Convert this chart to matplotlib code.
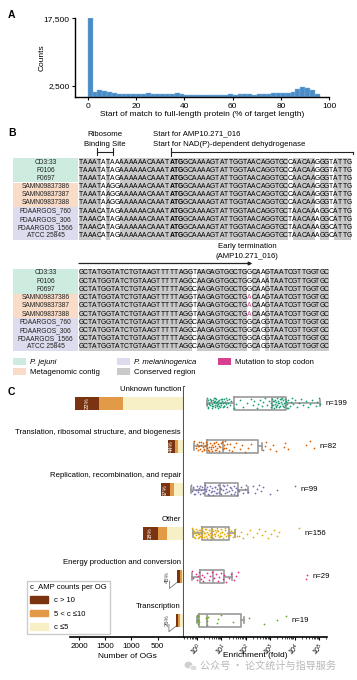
import numpy as np
import matplotlib.pyplot as plt
from matplotlib.patches import Rectangle, Patch, Ellipse
from matplotlib.transforms import blended_transform_factory

plt.rcParams['font.family'] = ['Liberation Sans', 'DejaVu Sans']
plt.rcParams['mathtext.default'] = 'regular'

# ---------------- data: panel A ----------------
bin_starts = list(range(0, 96, 2))
bin_counts = [17500, 1100, 1700, 1350, 1200, 950, 800, 650, 800, 650,
              650, 800, 1000, 650, 650, 700, 650, 650, 1000, 650,
              600, 600, 600, 600, 550, 550, 550, 550, 600, 700,
              600, 700, 750, 750, 600, 700, 700, 700, 850, 850,
              900, 1030, 1250, 1760, 2200, 2050, 1610, 730]

# ---------------- data: panel B ----------------
row_labels = ['CD3:33', 'F0106', 'F0697', 'SAMN09837386', 'SAMN09837387',
              'SAMN09837388', 'FDAARGOS_760', 'FDAARGOS_306', 'FDAARGOS_1566',
              'ATCC 25845']
row_groups = [0, 0, 0, 1, 1, 1, 2, 2, 2, 2]

seq_block1 = [
    "TAAATATAA" "AAAAAACAAAT" "ATG" "GCAAAAGTATTGGTAACAGGTGCC" "AACAAG" "GGT" "ATTG",
    "TAAATATAG" "AAAAAACAAAT" "ATG" "GCAAAAGTATTGGTAACAGGTGCC" "AACAAG" "GGT" "ATTG",
    "TAAATATAG" "AAAAAACAAAT" "ATG" "GCAAAAGTATTGGTAACAGGTGCC" "AACAAG" "GGT" "ATTG",
    "TAAATAAGG" "AAAAAACAAAT" "ATG" "GCAAAAGTATTGGTAACAGGTGCC" "AACAAG" "GGT" "ATTG",
    "TAAATAAGG" "AAAAAACAAAT" "ATG" "GCAAAAGTATTGGTAACAGGTGCC" "AACAAG" "GGT" "ATTG",
    "TAAATAAGG" "AAAAAACAAAT" "ATG" "GCAAAAGTATTGGTAACAGGTGCC" "AACAAG" "GGT" "ATTG",
    "TAAACATAG" "AAAAAACAAAT" "ATG" "GCAAAAGTATTGGTAACAGGTGCT" "AACAAA" "GGC" "ATTG",
    "TAAACATAG" "AAAAAACAAAT" "ATG" "GCAAAAGTATTGGTAACAGGTGCT" "AACAAA" "GGC" "ATTG",
    "TAAACATAG" "AAAAAACAAAT" "ATG" "GCAAAAGTATTGGTAACAGGTGCT" "AACAAA" "GGC" "ATTG",
    "TAAACATAG" "AAAAAACAAAT" "ATG" "GCAAAAGTATTGGTAACAGGTGCT" "AACAAA" "GGC" "ATTG",
]
seq_block2 = [
    "GCTATGGTATCTGTAAGTTTTTAGG" "T" "AAGAGTGGCTG" "G" "CAAG" "TAATCGTTGGTGC",
    "GCTATGGTATCTGTAAGTTTTTAGG" "C" "AAGAGTGGCTG" "G" "CAAA" "TAATCGTTGGTGC",
    "GCTATGGTATCTGTAAGTTTTTAGG" "C" "AAGAGTGGCTG" "G" "CAAG" "TAATCGTTGGTGC",
    "GCTATGGTATCTGTAAGTTTTTAGG" "T" "AAGAGTGGCTG" "A" "CAAG" "TAATCGTTGGTGC",
    "GCTATGGTATCTGTAAGTTTTTAGG" "T" "AAGAGTGGCTG" "A" "CAAG" "TAATCGTTGGTGC",
    "GCTATGGTATCTGTAAGTTTTTAGG" "T" "AAGAGTGGCTG" "A" "CAAG" "TAATCGTTGGTGC",
    "GCTATGGTATCTGTAAGTTTTTAGG" "C" "AAGAGTGGCTG" "G" "CAGG" "TAATCGTTGGTGC",
    "GCTATGGTATCTGTAAGTTTTTAGG" "C" "AAGAGTGGCTG" "G" "CAGG" "TAATCGTTGGTGC",
    "GCTATGGTATCTGTAAGTTTTTAGG" "C" "AAGAGTGGCTG" "G" "CAGG" "TAATCGTTGGTGC",
    "GCTATGGTATCTGTAAGTTTTTAGG" "C" "AAGAGTGGCTG" "G" "CAGG" "TAATCGTTGGTGC",
]
# conserved columns (1-based, inclusive runs)
conserved_block1 = [(1, 5), (7, 7), (10, 46), (48, 52), (54, 55), (57, 60)]
conserved_block2 = [(1, 25), (27, 37), (39, 40), (42, 42), (43, 55)]
start_codon_cols = [21, 22, 23]
stop_col = 38

# ---------------- data: panel C ----------------
categories = ['Unknown function',
              'Translation, ribosomal structure, and biogenesis',
              'Replication, recombination, and repair',
              'Other',
              'Energy production and conversion',
              'Transcription']
og_high = [457, 137, 162, 299, 63, 40]
og_mid = [457, 57, 95, 160, 30, 45]
og_low = [1162, 116, 181, 328, 47, 67]
n_counts = [199, 82, 99, 156, 29, 19]

# box statistics, log10 enrichment
box_lo = [0.40, -0.11, -0.25, -0.18, -0.22, -0.01]
box_q1 = [1.53, 0.40, 0.33, 0.19, 0.12, 0.09]
box_med = [3.06, 1.08, 0.94, 0.63, 0.67, 0.40]
box_q3 = [3.65, 2.51, 1.69, 1.32, 1.11, 1.79]
box_hi = [5.04, 2.66, 2.10, 1.56, 1.42, 1.94]

# individual OGs, log10 enrichment
unknown_log = """0.40 0.42 0.45 0.47 0.50 0.52 0.55 0.57 0.60 0.62 0.64 0.66 0.68 0.70
0.72 0.74 0.76 0.78 0.80 0.82 0.84 0.86 0.88 0.90 0.92 0.95 0.97 1.00 1.02 1.05 1.08
1.10 1.12 1.15 1.18 1.20 1.22 1.25 1.28 1.30 1.35 1.40 0.44 0.51 0.58 0.63 0.69 0.75
0.81 0.87 0.93 0.99 1.04 1.11 1.17 1.52 1.60 1.75 1.90 2.05 2.20 2.28 2.35 2.45 2.52
2.60 2.66 2.72 2.80 2.88 2.95 3.02 3.05 3.08 3.10 3.12 3.15 3.18 3.20 3.22 3.25 3.28
3.30 3.32 3.35 3.38 3.40 3.42 3.45 3.48 3.50 3.52 3.55 3.58 3.60 3.62 3.65 3.68 3.70
3.75 3.80 3.85 3.90 3.06 3.14 3.24 3.34 3.44 3.54 3.64 3.74 3.95 4.02 4.10 4.18 4.25
4.35 4.45 4.55 4.62 4.70 4.88 4.92 5.00 5.05"""
translation_log = """-0.10 -0.05 0.00 0.03 0.06 0.10 0.13 0.16 0.20 0.23 0.26 0.30 0.33
0.36 0.40 0.43 0.46 0.50 0.53 0.56 0.60 0.63 0.66 0.70 0.73 0.76 0.80 0.84 0.88 0.92
0.96 1.00 1.05 1.10 1.15 1.20 1.25 1.30 0.08 0.18 0.28 0.38 0.48 0.58 0.68 0.78 0.90
1.02 1.12 1.35 1.42 1.50 1.62 1.75 1.85 1.98 2.10 2.20 2.72 2.78 2.85 3.00 3.12 3.25
3.55 3.62 3.75 4.45 4.62 4.80"""
replication_log = """-0.25 -0.20 -0.15 -0.10 -0.05 0.00 0.05 0.10 0.14 0.18 0.22 0.26
0.30 0.34 0.38 0.42 0.46 0.50 0.54 0.58 0.62 0.66 0.70 0.74 0.78 0.82 0.86 0.90 0.95
1.00 1.05 1.10 1.15 1.20 1.25 1.30 1.35 1.40 1.45 1.50 1.55 1.60 1.66 1.72 1.80 1.88
1.95 2.02 2.08 -0.18 -0.08 0.03 0.12 0.24 0.36 0.48 0.60 0.72 0.84 0.97 1.08 1.22 1.38
1.52 1.70 2.30 2.38 2.45 2.55 2.62 2.70 3.00 3.28 4.02"""
other_log = """-0.20 -0.17 -0.14 -0.11 -0.08 -0.05 -0.02 0.01 0.04 0.07 0.10 0.13
0.16 0.19 0.22 0.25 0.28 0.31 0.34 0.37 0.40 0.43 0.46 0.49 0.52 0.55 0.58 0.61 0.64
0.67 0.70 0.73 0.76 0.79 0.82 0.85 0.88 0.91 0.94 0.97 1.00 1.04 1.08 1.12 1.16 1.20
1.25 1.30 1.35 1.40 1.46 1.52 1.58 1.64 -0.15 -0.06 0.03 0.12 0.21 0.30 0.39 0.48 0.57
0.66 0.75 0.84 0.93 1.02 1.14 1.26 1.38 0.08 0.35 0.62 1.72 1.80 1.90 2.05 2.18 2.30
2.48 2.55 2.65 2.80 2.92 3.05 3.15 3.30 3.38 4.18"""
energy_log = """-0.22 -0.15 -0.05 0.00 0.05 0.10 0.15 0.20 0.25 0.30 0.40 0.50 0.55
0.62 0.70 0.78 0.85 0.90 0.98 1.05 1.12 1.20 1.30 1.40 1.50 1.62 1.68 4.48 4.52"""
transcription_log = """0.00 0.01 0.02 0.03 0.05 0.06 0.08 0.38 0.40 0.42 0.45 0.81 0.85
0.98 1.48 2.13 2.75 3.28 3.65"""
point_lists = [unknown_log, translation_log, replication_log, other_log,
               energy_log, transcription_log]
point_colors = ['#1b9e77', '#d95f02', '#7570b3', '#e6ab02', '#e7298a', '#66a61e']

col_high, col_mid, col_low = '#7a3412', '#e39a47', '#f7efc6'

W, H = 357, 680
fig = plt.figure(figsize=(W / 100, H / 100), dpi=100)

# pixel-space overlay for panel B, letters and watermark
axB = fig.add_axes([0, 0, 1, 1])
axB.set_xlim(0, W)
axB.set_ylim(H, 0)
axB.axis('off')

for letter, yy in [('A', 15), ('B', 133), ('C', 392)]:
    axB.text(8, yy, letter, fontsize=7.5, fontweight='bold', va='center')

# ---------------- panel A ----------------
axA = fig.add_axes([75 / W, 1 - 97.3 / H, (329.3 - 75) / W, (97.3 - 18.3) / H])
axA.bar(bin_starts, bin_counts, width=2, align='edge', color='#4a8dc6',
        edgecolor='#7fb2dd', linewidth=0.3)
axA.set_xlim(-5.3, 100)
axA.set_ylim(0, 17500)
axA.set_yticks([2500, 17500])
axA.set_yticklabels(['2,500', '17,500'])
axA.set_xticks(range(0, 101, 20))
for s in ['top', 'right']:
    axA.spines[s].set_visible(False)
for s in ['left', 'bottom']:
    axA.spines[s].set_linewidth(1)
axA.tick_params(labelsize=6, length=2.5, width=0.8, pad=1.5)
axA.set_ylabel('Counts', fontsize=6)
axA.yaxis.set_label_coords(-0.115, 0.5)
axA.set_xlabel('Start of match to full-length protein (% of target length)',
               fontsize=6, labelpad=1)

# ---------------- panel B ----------------
PITCH = 4.55
SEQ_X0 = 78.5
ROW_DY = 8.2
group_fc = ['#cdebdf', '#f8dcc7', '#dcdcee']
gray = '#c9c9c9'
pink = '#d6408f'


def draw_block(seqs, y0, runs, bold_cols=(), stop=None):
    top = y0 - ROW_DY / 2
    bot = y0 + (len(seqs) - 0.5) * ROW_DY
    for a, b in runs:
        axB.add_patch(Rectangle((SEQ_X0 + (a - 1) * PITCH + 0.25, top),
                                (b - a + 1) * PITCH - 0.5, bot - top,
                                fc=gray, ec='none'))
    for g in range(3):
        rows = [i for i, gg in enumerate(row_groups) if gg == g]
        axB.add_patch(Rectangle((13, y0 + (rows[0] - 0.5) * ROW_DY), 65,
                                len(rows) * ROW_DY, fc=group_fc[g], ec='none'))
    for r, seq in enumerate(seqs):
        y = y0 + r * ROW_DY
        axB.text(45.5, y, row_labels[r], fontsize=4.8, ha='center', va='center',
                 color='#222222')
        for j, ch in enumerate(seq):
            col = j + 1
            c = '#000000'
            w = 'normal'
            if col in bold_cols:
                w = 'bold'
            if stop is not None and col == stop and ch == 'A':
                c = pink
            axB.text(SEQ_X0 + (j + 0.5) * PITCH, y, ch, fontsize=4.9,
                     ha='center', va='center', color=c, fontweight=w)


hdr_fs = 5.6
axB.text(105, 134, 'Ribosome', fontsize=hdr_fs, ha='center', va='center')
axB.text(105, 145, 'Binding Site', fontsize=hdr_fs, ha='center', va='center')
axB.plot([97, 113], [151.5, 151.5], color='#222222', lw=0.8)
axB.plot([97, 97], [148, 155], color='#222222', lw=0.8)
axB.plot([113, 113], [148, 155], color='#222222', lw=0.8)
axB.text(153, 134, 'Start for AMP10.271_016', fontsize=hdr_fs, va='center')
axB.text(153, 145, 'Start for NAD(P)-dependent dehydrogenase', fontsize=hdr_fs,
         va='center')
x_atg = SEQ_X0 + (start_codon_cols[0] - 1) * PITCH + 1
axB.plot([x_atg, x_atg], [148, 156], color='#222222', lw=0.8)
axB.plot([x_atg, 352.5], [151.5, 151.5], color='#222222', lw=0.8)
axB.plot([352.5, 352.5], [151.5, 154], color='#222222', lw=0.8)

draw_block(seq_block1, 162, conserved_block1, bold_cols=start_codon_cols)

x_stop = SEQ_X0 + stop_col * PITCH
axB.text(247, 247, 'Early termination', fontsize=hdr_fs, ha='center', va='center')
axB.text(247, 256, '(AMP10.271_016)', fontsize=hdr_fs, ha='center', va='center')
axB.annotate('', xy=(x_stop + 1, 263.5), xytext=(79, 263.5),
             arrowprops=dict(arrowstyle='-|>', lw=0.9, color='#222222',
                             mutation_scale=5, shrinkA=0, shrinkB=0))

draw_block(seq_block2, 273, conserved_block2, stop=stop_col)

leg_items = [(13, 362, group_fc[0], 'P. jejuni', 'italic'),
             (13, 372, group_fc[1], 'Metagenomic contig', 'normal'),
             (117, 362, group_fc[2], 'P. melaninogenica', 'italic'),
             (117, 372, gray, 'Conserved region', 'normal'),
             (218, 362, pink, 'Mutation to stop codon', 'normal')]
for lx, ly, fc, txt, st in leg_items:
    axB.add_patch(Rectangle((lx, ly - 3.8), 13, 7.2, fc=fc, ec='none'))
    axB.text(lx + 17, ly, txt, fontsize=5.6, va='center', style=st)

# ---------------- panel C ----------------
top_px, bot_px = 386.7, 637
ax_h = (bot_px - top_px) / H
ylim = (5.39, -0.376)
ypos = np.arange(len(categories))
xlab_y = -(656.5 - 3.5 - bot_px) / (bot_px - top_px)

axL = fig.add_axes([70 / W, 1 - bot_px / H, 114 / W, ax_h])
low = np.array(og_low)
mid = np.array(og_mid)
high = np.array(og_high)
total = low + mid + high
bh = 0.3
axL.barh(ypos, low, height=bh, color=col_low)
axL.barh(ypos, mid, left=low, height=bh, color=col_mid)
axL.barh(ypos, high, left=low + mid, height=bh, color=col_high)
axL.set_xlim(2170, 0)
axL.set_ylim(*ylim)
axL.set_yticks([])
axL.set_xticks([2000, 1500, 1000, 500])
for s in ['top', 'left']:
    axL.spines[s].set_visible(False)
axL.spines['bottom'].set_linewidth(1.2)
axL.spines['right'].set_linewidth(1.5)
axL.spines['right'].set_color('#555555')
axL.tick_params(axis='x', labelsize=5.8, length=2.5, width=0.8, pad=1.5)
axL.set_xlabel('Number of OGs', fontsize=6)
axL.xaxis.set_label_coords(0.5, xlab_y)

trL = blended_transform_factory(axL.transAxes, axL.transData)
for i, cat in enumerate(categories):
    axL.text(0.974, i - 0.32, cat, transform=trL, ha='right', va='center',
             fontsize=5.6)
    pct = '%d%%' % round(100 * high[i] / total[i])
    if i < 4:
        axL.text(low[i] + mid[i] + high[i] / 2, i, pct, rotation=90, color='white',
                 fontsize=4.2, ha='center', va='center')
    else:
        tx = total[i] + 170
        axL.text(tx, i + 0.0, pct, rotation=90, color='#444444', fontsize=4.2,
                 ha='center', va='center')
        axL.plot([tx - 35, tx - 35, total[i]], [i + 0.1, i + 0.27, i + 0.14],
                 color='#777777', lw=0.6)

axL.legend([Patch(color=col_high), Patch(color=col_mid), Patch(color=col_low)],
           ['c > 10', '5 < c \u226410', 'c \u22645'],
           title='c_AMP counts per OG', loc='upper left',
           bbox_to_anchor=(23 / W, 1 - 576.7 / H), bbox_transform=fig.transFigure,
           fontsize=5.5, title_fontsize=5.5, frameon=True, fancybox=False,
           edgecolor='#cccccc', framealpha=1, handlelength=2.4, handleheight=0.9,
           labelspacing=0.75, borderpad=0.4, handletextpad=0.8,
           alignment='left')

axR = fig.add_axes([184 / W, 1 - bot_px / H, 143 / W, ax_h])
axR.set_xscale('log')
stats = []
for i in range(len(categories)):
    stats.append(dict(med=10 ** box_med[i], q1=10 ** box_q1[i], q3=10 ** box_q3[i],
                      whislo=10 ** box_lo[i], whishi=10 ** box_hi[i], fliers=[]))
gp = dict(color='#9a9a9a', lw=1.2)
axR.bxp(stats, positions=ypos, widths=0.3, orientation='horizontal',
        showfliers=False, boxprops=gp, medianprops=gp, whiskerprops=gp,
        capprops=gp, capwidths=0.15)
for i, txt in enumerate(point_lists):
    vals = np.array(txt.split(), dtype=float)
    k = np.arange(len(vals))
    jit = ((k * 0.618034) % 1 - 0.5) * 0.24
    axR.scatter(10 ** vals, i + jit, s=1.6, color=point_colors[i], lw=0,
                zorder=3)
    axR.text(10 ** (vals.max() + 0.22), i, 'n=%d' % n_counts[i], fontsize=5.6,
             va='center', clip_on=False)
axR.set_xlim(10 ** -0.53, 10 ** 5.33)
axR.set_ylim(*ylim)
axR.set_yticks([])
axR.set_xticks([10 ** e for e in range(6)])
for s in ['top', 'left', 'right']:
    axR.spines[s].set_visible(False)
axR.spines['bottom'].set_linewidth(1.2)
axR.tick_params(axis='x', which='major', labelsize=5, length=2.5, width=0.8,
                pad=0.5)
axR.tick_params(axis='x', which='minor', length=1.5, width=0.5)
for lab in axR.get_xticklabels():
    lab.set_rotation(45)
    lab.set_ha('right')
    lab.set_rotation_mode('anchor')
axR.set_xlabel('Enrichment (fold)', fontsize=6)
axR.xaxis.set_label_coords(0.5, -(655.5 - 3.5 - bot_px) / (bot_px - top_px))

# watermark
axB.add_patch(Ellipse((188.5, 665), 8, 6.5, fc='#cfcfcf', ec='none'))
axB.add_patch(Ellipse((193.5, 668), 7, 5.5, fc='#dcdcdc', ec='white', lw=0.6))
axB.text(200, 666, '\u516c\u4f17\u53f7 \u00b7 \u8bba\u6587\u7edf\u8ba1\u4e0e\u6307\u5bfc\u670d\u52a1',
         fontsize=7.3, color='#b8b8b8', va='center',
         family=['Noto Sans CJK SC', 'DejaVu Sans'])

fig.savefig('out.png', dpi=100)
